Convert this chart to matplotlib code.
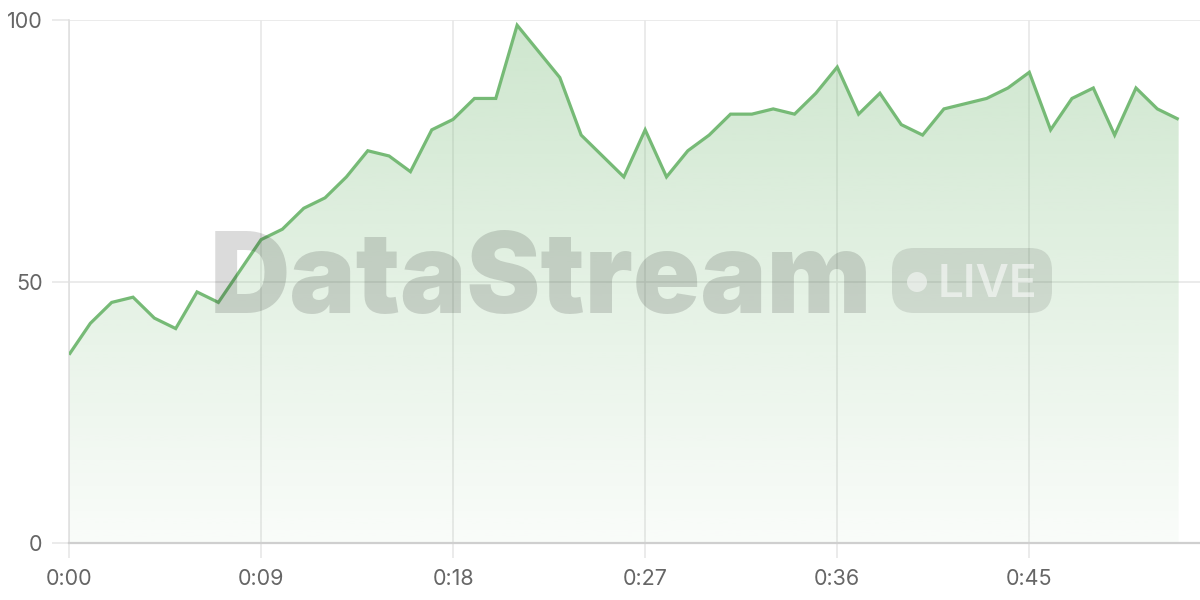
import numpy as np
import matplotlib
matplotlib.use("Agg")
import matplotlib.pyplot as plt
from matplotlib.patches import FancyBboxPatch, Circle

# ---- data ----
seconds = list(range(53))
values = [36, 42, 46, 47, 43, 41, 48, 46, 52, 58,
          60, 64, 66, 70, 75, 74, 71, 79, 81, 85,
          85, 99, 94, 89, 78, 74, 70, 79, 70, 75,
          78, 82, 82, 83, 82, 86, 91, 82, 86, 80,
          78, 83, 84, 85, 87, 90, 79, 85, 87, 78,
          87, 83, 81]
x_ticks = [0, 9, 18, 27, 36, 45]
x_tick_labels = ["0:00", "0:09", "0:18", "0:27", "0:36", "0:45"]
y_ticks = [0, 50, 100]
y_tick_labels = ["0", "50", "100"]
watermark = "DataStream"
badge = "LIVE"

plt.rcParams['font.family'] = ['Inter', 'DejaVu Sans']

green = '#76ba76'
green_rgb = matplotlib.colors.to_rgb(green)
grid_c = '#e8e8e8'

W, H = 1200, 600
fig = plt.figure(figsize=(12, 6), dpi=100)
fig.patch.set_facecolor('white')
ax = fig.add_axes([69 / W, 1 - 543 / H, (W - 69) / W, (543 - 20) / H])

# gradient fill under the line
n = 256
rgba = np.zeros((n, 1, 4))
rgba[..., 0], rgba[..., 1], rgba[..., 2] = green_rgb
rgba[..., 3] = np.linspace(0.04, 0.36, n).reshape(-1, 1)
im = ax.imshow(rgba, extent=[seconds[0], seconds[-1], 0, max(y_ticks)],
               origin='lower', aspect='auto', zorder=1, interpolation='bilinear')
poly = ax.fill_between(seconds, values, 0, color='none', lw=0)
im.set_clip_path(poly.get_paths()[0], ax.transData)

ax.plot(seconds, values, color=green, lw=2.3, zorder=3,
        solid_joinstyle='miter', solid_capstyle='butt')

ax.set_xlim(0, 53)
ax.set_ylim(0, 100)
ax.set_xticks(x_ticks)
ax.set_xticklabels(x_tick_labels)
ax.set_yticks(y_ticks)
ax.set_yticklabels(y_tick_labels)

ax.grid(True, color=grid_c, lw=1.2, zorder=0)
ax.set_axisbelow(True)
for s in ['top', 'right']:
    ax.spines[s].set_visible(False)
ax.spines['left'].set_color('#e0e0e0')
ax.spines['left'].set_linewidth(1.2)
ax.spines['bottom'].set_color('#cfcfcf')
ax.spines['bottom'].set_linewidth(1.6)
ax.spines['bottom'].set_zorder(4)

ax.tick_params(axis='y', length=12.5, width=1.2, color=grid_c, pad=6.5,
               labelsize=15.5, labelcolor='#666666')
ax.tick_params(axis='x', length=11, width=1.2, color=grid_c, pad=8,
               labelsize=15.5, labelcolor='#666666')

# watermark overlay in pixel coordinates
wax = fig.add_axes([0, 0, 1, 1], zorder=5)
wax.set_xlim(0, W)
wax.set_ylim(H, 0)
wax.axis('off')
wax.patch.set_alpha(0)

wax.text(210, 313, watermark, fontsize=80, fontweight='black',
         color=(0, 0, 0, 0.14), ha='left', va='baseline')
wax.add_patch(FancyBboxPatch((892, 248), 160, 65,
                             boxstyle="round,pad=0,rounding_size=22",
                             fc=(0, 0, 0, 0.10), ec='none'))
wax.add_patch(Circle((917, 282), 10, fc=(1, 1, 1, 0.5), ec='none'))
wax.text(938, 297, badge, fontsize=33, fontweight='semibold',
         color=(1, 1, 1, 0.55), ha='left', va='baseline')

fig.savefig('out.png', dpi=100)
